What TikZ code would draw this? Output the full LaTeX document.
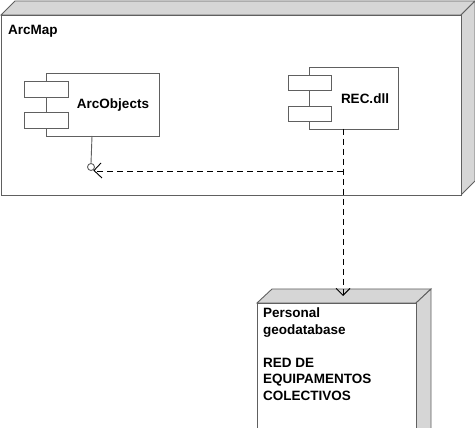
\documentclass[tikz,border=0pt]{standalone}
\usepackage{fontspec}
\setmainfont{Liberation Sans}
\usetikzlibrary{arrows.meta}
\definecolor{edge}{HTML}{606060}
\definecolor{side}{HTML}{D6D6D6}
\tikzset{
  x=1pt,y=-1pt,
  ln/.style={draw=edge,line width=0.9pt},
  face/.style={ln,fill=side},
  front/.style={ln,fill=white},
  lbl/.style={font=\bfseries\fontsize{13.5}{16.5}\selectfont,text=black,inner sep=0pt},
  dep/.style={draw=black,line width=0.9pt,dash pattern=on 6pt off 4pt},
  vtip/.style={-{Straight Barb[length=7pt,width=14pt,line width=0.9pt]}},
}
\begin{document}
\begin{tikzpicture}
\useasboundingbox (0,0) rectangle (475,428);
% ArcMap node
\draw[face] (1,15) -- (15,1) -- (475,1) -- (461,15) -- cycle;
\draw[face] (461,15) -- (475,1) -- (475,181) -- (461,195) -- cycle;
\draw[front] (1,15) rectangle (461,195);
\node[lbl,anchor=base west] (arcmap) at (8,35) {ArcMap};
% ArcObjects component
\draw[front] (46,73) rectangle (159,136);
\node[lbl] (arcobj) at (113,105) {ArcObjects};
\draw[front] (24,81) rectangle (68,97);
\draw[front] (24,112) rectangle (68,128);
\coordinate (aobot) at (92,136);
% REC.dll component
\draw[front] (309,67) rectangle (398,129);
\node[lbl] (rec) at (365,99) {REC.dll};
\draw[front] (288,75) rectangle (331,90);
\draw[front] (288,106) rectangle (331,121);
\coordinate (recbot) at (343,129);
% Personal geodatabase node
\draw[face] (257,303) -- (272,289) -- (431,289) -- (416,303) -- cycle;
\draw[face] (416,303) -- (431,289) -- (431,430) -- (416,430) -- cycle;
\draw[front] (257,430) -- (257,303) -- (416,303) -- (416,430);
\node[lbl,anchor=north west,align=left] (pgdb) at (263,308) {Personal\\geodatabase\\[16.5pt]RED DE\\EQUIPAMENTOS\\COLECTIVOS};
\coordinate (pgtop) at (343,296);
% interface lollipop
\coordinate (circ) at (91,167);
\draw[ln] (aobot) -- (91,163.5);
\draw[ln] (circ) circle (3.5);
\coordinate (corner) at (343,171);
\draw[dep] (recbot) -- (corner);
\draw[dep] (corner) -- (97,171);
\draw[black,line width=0.9pt] (101,163) -- (94,170.5) -- (102,178);
\draw[dep,vtip] (recbot) -- (pgtop);
\end{tikzpicture}
\end{document}
